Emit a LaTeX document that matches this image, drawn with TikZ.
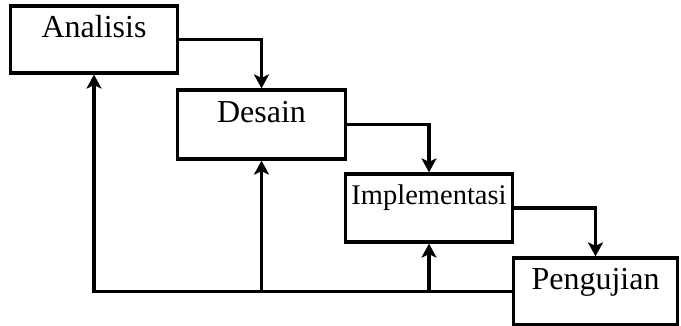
\documentclass[tikz,border=0pt]{standalone}
\usepackage{fontspec}
\setmainfont{Liberation Serif}
\usetikzlibrary{arrows.meta}
\begin{document}
\begin{tikzpicture}[x=1pt,y=-1pt,
  phase/.style={draw=black,line width=3.2pt,rectangle,inner xsep=0pt,inner ysep=0pt,
    font=\fontsize{32}{38}\selectfont,text height=32pt,anchor=center},
  conn/.style={line width=3.2pt,-{Stealth[length=14pt,width=15pt,inset=3.5pt]}},
  plain/.style={line width=3.2pt}]
\useasboundingbox (0,0) rectangle (681,326);
\node[phase,minimum width=167pt,minimum height=67pt,text depth=35pt] (A) at (94,39.5) {Analisis};
\node[phase,minimum width=168pt,minimum height=69pt,text depth=36pt] (D) at (261.5,124.5) {Desain};
\node[phase,minimum width=167pt,minimum height=68pt,text depth=37pt,font=\fontsize{28.5}{34}\selectfont,text height=31pt] (I) at (429,208) {Implementasi};
\node[phase,minimum width=164pt,minimum height=67pt,text depth=35pt] (P) at (595.5,291.5) {Pengujian};
\draw[conn] (A.east) -| (D.north);
\draw[conn] (D.east) -| (I.north);
\draw[conn] (I.east) -| (P.north);
\coordinate (fb) at (A.south |- P.west);
\coordinate (fbD) at (D.south |- P.west);
\coordinate (fbI) at (I.south |- P.west);
\draw[plain,line join=miter] (P.west) -- (fb);
\draw[conn] ([xshift=1.6pt]fb) -- (fb) -- (A.south);
\draw[conn] (fbD) -- (D.south);
\draw[conn] (fbI) -- (I.south);
\end{tikzpicture}
\end{document}
